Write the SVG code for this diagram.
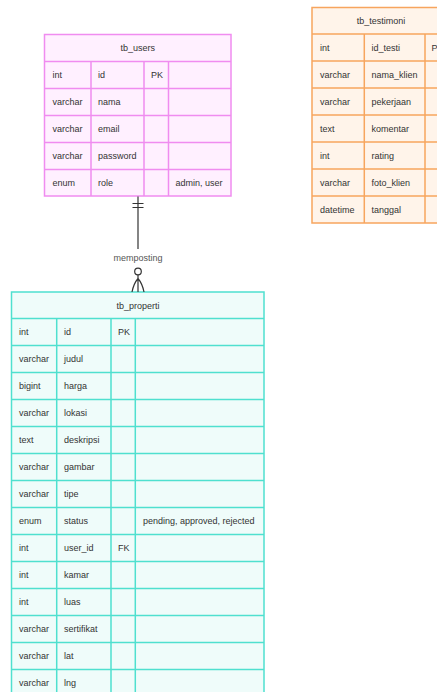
<svg xmlns="http://www.w3.org/2000/svg" width="437" height="692" viewBox="0 0 437 692">
  <style>
    text { font-family: "Liberation Sans", Arial, sans-serif; font-size: 9px; fill: #333333; }
    .hdr { text-anchor: middle; }
    .users rect, .users path { fill: none; stroke: #f08cf0; stroke-width: 1.5; }
    .users rect.bg { fill: #fff0ff; }
    .testi rect, .testi path { fill: none; stroke: #f7a55e; stroke-width: 1.5; }
    .testi rect.bg { fill: #fff4ea; }
    .prop rect, .prop path { fill: none; stroke: #4fe0cf; stroke-width: 1.5; }
    .prop rect.bg { fill: #effcfa; }
    .rel { fill: none; stroke: #333333; stroke-width: 1.2; }
  </style>

  <!-- tb_users -->
  <g id="tb_users" class="users">
    <rect class="bg" x="44.5" y="34.5" width="186.5" height="161.5"/>
    <path d="M44.5 61.5H231M44.5 88.5H231M44.5 115.5H231M44.5 142.5H231M44.5 169.5H231M91 61.5V196M144 61.5V196M168.5 61.5V196"/>
    <text class="hdr" x="137.8" y="51">tb_users</text>
    <text x="52.5" y="78">int</text><text x="98" y="78">id</text><text x="151" y="78">PK</text>
    <text x="52.5" y="105">varchar</text><text x="98" y="105">nama</text>
    <text x="52.5" y="132">varchar</text><text x="98" y="132">email</text>
    <text x="52.5" y="159">varchar</text><text x="98" y="159">password</text>
    <text x="52.5" y="186">enum</text><text x="98" y="186">role</text><text x="175.5" y="186">admin, user</text>
  </g>

  <!-- tb_testimoni -->
  <g id="tb_testimoni" class="testi">
    <rect class="bg" x="312" y="7.5" width="138" height="215.5"/>
    <path d="M312 34H450M312 61H450M312 88H450M312 115H450M312 142H450M312 169H450M312 196H450M364.3 34V223M425 34V223"/>
    <text class="hdr" x="381" y="24">tb_testimoni</text>
    <text x="320" y="51">int</text><text x="371.5" y="51">id_testi</text><text x="431.5" y="51">PK</text>
    <text x="320" y="78">varchar</text><text x="371.5" y="78">nama_klien</text>
    <text x="320" y="105">varchar</text><text x="371.5" y="105">pekerjaan</text>
    <text x="320" y="132">text</text><text x="371.5" y="132">komentar</text>
    <text x="320" y="159">int</text><text x="371.5" y="159">rating</text>
    <text x="320" y="186">varchar</text><text x="371.5" y="186">foto_klien</text>
    <text x="320" y="213">datetime</text><text x="371.5" y="213">tanggal</text>
  </g>

  <!-- tb_properti -->
  <g id="tb_properti" class="prop">
    <rect class="bg" x="11.5" y="292" width="252.5" height="405"/>
    <path d="M11.5 318.5H264M11.5 345.5H264M11.5 372.5H264M11.5 399.5H264M11.5 426.5H264M11.5 453.5H264M11.5 480.5H264M11.5 507.5H264M11.5 534.5H264M11.5 561.5H264M11.5 588.5H264M11.5 615.5H264M11.5 642.5H264M11.5 669.5H264M56.7 318.5V697M111 318.5V697M135.3 318.5V697"/>
    <text class="hdr" x="138" y="308.5">tb_properti</text>
    <text x="19" y="335">int</text><text x="64" y="335">id</text><text x="118" y="335">PK</text>
    <text x="19" y="362">varchar</text><text x="64" y="362">judul</text>
    <text x="19" y="389">bigint</text><text x="64" y="389">harga</text>
    <text x="19" y="416">varchar</text><text x="64" y="416">lokasi</text>
    <text x="19" y="443">text</text><text x="64" y="443">deskripsi</text>
    <text x="19" y="470">varchar</text><text x="64" y="470">gambar</text>
    <text x="19" y="497">varchar</text><text x="64" y="497">tipe</text>
    <text x="19" y="524">enum</text><text x="64" y="524">status</text><text x="143" y="524">pending, approved, rejected</text>
    <text x="19" y="551">int</text><text x="64" y="551">user_id</text><text x="118" y="551">FK</text>
    <text x="19" y="578">int</text><text x="64" y="578">kamar</text>
    <text x="19" y="605">int</text><text x="64" y="605">luas</text>
    <text x="19" y="632">varchar</text><text x="64" y="632">sertifikat</text>
    <text x="19" y="659">varchar</text><text x="64" y="659">lat</text>
    <text x="19" y="686">varchar</text><text x="64" y="686">lng</text>
  </g>

  <!-- relationship: one user (exactly one) to many properties (zero or more) -->
  <g id="connectors">
    <path class="rel" d="M138 196.5V249"/>
    <path class="rel" d="M132.5 203.5H143.5M132.5 207.5H143.5"/>
    <text class="hdr" x="138" y="261" style="fill:#555555">memposting</text>
    <circle class="rel" cx="138" cy="271.5" r="3.3"/>
    <path class="rel" d="M138 275V292M138 278.5C135 282 133 287 132 292M138 278.5C141 282 143 287 144 292"/>
  </g>
</svg>
